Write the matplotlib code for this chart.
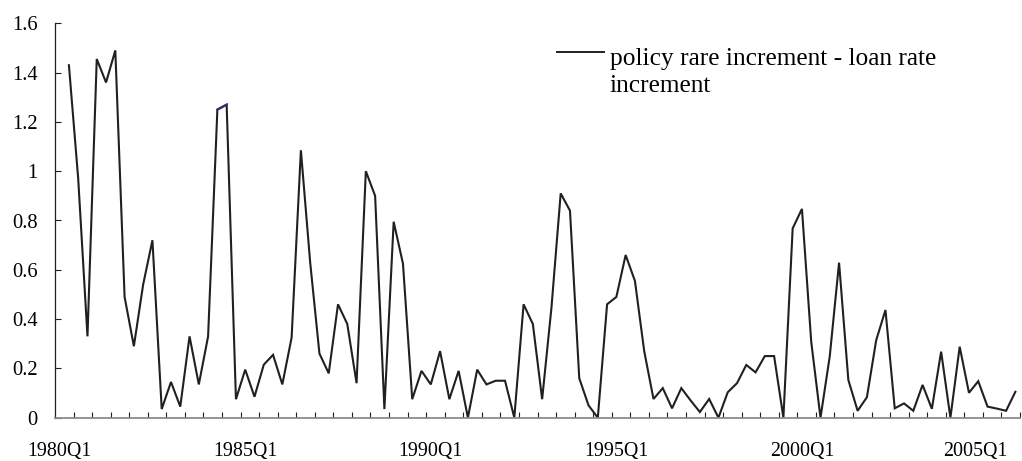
import numpy as np
import matplotlib

matplotlib.use("Agg")
import matplotlib.pyplot as plt
from matplotlib.transforms import ScaledTranslation

plt.rcParams["font.family"] = ["Liberation Serif", "DejaVu Serif"]

# quarterly series, 1980Q2 .. 2005Q4 (first quarter is lost by differencing)
spread = [
    1.43, 0.97, 0.33, 1.455, 1.36, 1.49, 0.49, 0.29, 0.54, 0.72,
    0.035, 0.145, 0.045, 0.33, 0.135, 0.33, 1.25, 1.27, 0.075, 0.195,
    0.085, 0.215, 0.255, 0.135, 0.325, 1.085, 0.63, 0.26, 0.18, 0.46,
    0.38, 0.14, 1.0, 0.9, 0.035, 0.795, 0.625, 0.075, 0.19, 0.135,
    0.27, 0.075, 0.19, 0.0, 0.195, 0.135, 0.15, 0.15, 0.0, 0.46,
    0.38, 0.075, 0.445, 0.91, 0.84, 0.16, 0.05, 0.0, 0.46, 0.49,
    0.66, 0.555, 0.27, 0.076, 0.12, 0.038, 0.12, 0.07, 0.023, 0.076,
    0.0, 0.103, 0.14, 0.214, 0.184, 0.25, 0.25, 0.0, 0.768, 0.847,
    0.308, 0.0, 0.25, 0.629, 0.153, 0.028, 0.083, 0.314, 0.437, 0.038,
    0.058, 0.028, 0.133, 0.036, 0.268, 0.0, 0.288, 0.101, 0.148, 0.045,
    0.037, 0.028, 0.105,
]
n_quarters = 104  # 1980Q1 .. 2005Q4
label_pos = [0, 20, 40, 60, 80, 100]
label_text = ["1980Q1", "1985Q1", "1990Q1", "1995Q1", "2000Q1", "2005Q1"]
y_ticks = [0, 0.2, 0.4, 0.6, 0.8, 1.0, 1.2, 1.4, 1.6]
y_labels = ["0", "0.2", "0.4", "0.6", "0.8", "1", "1.2", "1.4", "1.6"]
legend_label = "policy rare increment - loan rate\nincrement"

W, H = 1022, 461
fig = plt.figure(figsize=(W / 100, H / 100), dpi=100)
ax = fig.add_axes([55 / W, 43.3 / H, 965 / W, 394.4 / H])

x = np.arange(1, len(spread) + 1)
ink = "#231f20"
ax.plot(x, spread, color=ink, lw=1.5, solid_joinstyle="miter")
# the short navy stretch seen in the source print
ax.plot(x[16:18], spread[16:18], color="#2b2e83", lw=1.5)

ax.set_xlim(-0.5, n_quarters - 0.5)
ax.set_ylim(0, 1.6)

ax.set_yticks(y_ticks)
ax.set_yticklabels(y_labels)
ax.set_xticks(np.arange(1.5, n_quarters, 2))
ax.set_xticks(label_pos, label_text, minor=True)

ax.tick_params(axis="x", which="major", direction="in", length=4,
               width=0.8, color=ink, labelbottom=False)
ax.tick_params(axis="x", which="minor", length=0, pad=17.5, labelsize=14.4)
ax.tick_params(axis="y", direction="in", length=4.5, width=0.8,
               color=ink, pad=12.6, labelsize=14.8)

# last category label is pulled in from the right edge, as in the source
last = ax.get_xticklabels(minor=True)[-1]
last.set_transform(last.get_transform()
                   + ScaledTranslation(-0.12, 0, fig.dpi_scale_trans))

for side in ("top", "right"):
    ax.spines[side].set_visible(False)
ax.spines["bottom"].set_color("#8c8c8c")
ax.spines["bottom"].set_linewidth(1.3)
ax.spines["left"].set_color(ink)
ax.spines["left"].set_linewidth(0.9)

# legend key drawn by hand so the line sits on the first text line
ax.plot([0.520, 0.569], [0.928, 0.928], transform=ax.transAxes,
        color=ink, lw=1.4, clip_on=False)
ax.text(0.575, 0.8266, legend_label, transform=ax.transAxes,
        fontsize=18.3, ha="left", va="baseline", linespacing=1.3)

fig.savefig("out.png", dpi=100)
